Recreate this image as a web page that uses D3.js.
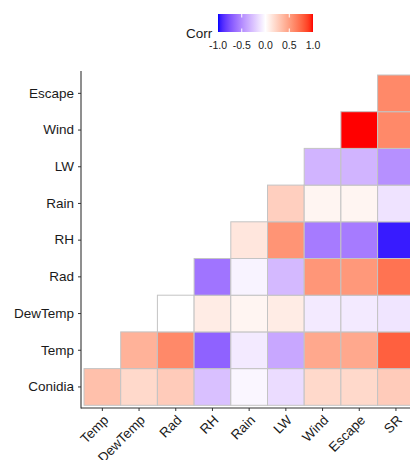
<!DOCTYPE html>
<html>
<head>
<meta charset="utf-8">
<script src="https://cdn.jsdelivr.net/npm/d3@7"></script>
<style>
  html, body { margin: 0; padding: 0; background: #fff; }
  svg { display: block; font-family: "Liberation Sans", Arial, sans-serif; }
</style>
</head>
<body>
<svg id="chart" width="410" height="460"></svg>
<script>
// Variables on each axis
const xVars = ["Temp", "DewTemp", "Rad", "RH", "Rain", "LW", "Wind", "Escape", "SR"];
const yVars = ["Conidia", "Temp", "DewTemp", "Rad", "RH", "Rain", "LW", "Wind", "Escape"];

// Lower-triangle correlations: each row lists values against xVars,
// starting at the column just after the row's own variable.
const corrConidia = [0.33, 0.20, 0.27, -0.27, -0.04, -0.15, 0.20, 0.20, 0.27];
const corrTemp    = [0.40, 0.60, -0.68, -0.09, -0.38, 0.45, 0.45, 0.78];
const corrDewTemp = [0.00, 0.10, 0.05, 0.10, -0.09, -0.09, -0.11];
const corrRad     = [-0.60, -0.05, -0.30, 0.54, 0.53, 0.70];
const corrRH      = [0.13, 0.55, -0.57, -0.57, -0.95];
const corrRain    = [0.25, 0.05, 0.05, -0.12];
const corrLW      = [-0.32, -0.32, -0.48];
const corrWind    = [1.00, 0.60];
const corrEscape  = [0.60];

// Legend breaks
const legendTicks = [-1, -0.5, 0, 0.5, 1];

const rows = [corrConidia, corrTemp, corrDewTemp, corrRad, corrRH, corrRain, corrLW, corrWind, corrEscape];
const cells = [];
rows.forEach((vals, i) => {
  const offset = xVars.length - vals.length;
  vals.forEach((v, k) => cells.push({ y: yVars[i], x: xVars[offset + k], value: v }));
});

// CIELAB (D65 white) conversions for the diverging ramp
const WHITE = [0.95047, 1, 1.08883];
function toLinear(c) { c /= 255; return c <= 0.04045 ? c / 12.92 : Math.pow((c + 0.055) / 1.055, 2.4); }
function fromLinear(c) {
  const v = c <= 0.0031308 ? 12.92 * c : 1.055 * Math.pow(c, 1 / 2.4) - 0.055;
  return Math.max(0, Math.min(255, Math.round(v * 255)));
}
function rgbToLab(hex) {
  const c = d3.rgb(hex);
  const r = toLinear(c.r), g = toLinear(c.g), b = toLinear(c.b);
  const X = 0.4124564 * r + 0.3575761 * g + 0.1804375 * b;
  const Y = 0.2126729 * r + 0.7151522 * g + 0.0721750 * b;
  const Z = 0.0193339 * r + 0.1191920 * g + 0.9503041 * b;
  const f = t => t > 216 / 24389 ? Math.cbrt(t) : (24389 / 27 * t + 16) / 116;
  const fx = f(X / WHITE[0]), fy = f(Y / WHITE[1]), fz = f(Z / WHITE[2]);
  return [116 * fy - 16, 500 * (fx - fy), 200 * (fy - fz)];
}
function labToRgb([L, A, B]) {
  const fy = (L + 16) / 116, fx = fy + A / 500, fz = fy - B / 200;
  const inv = t => t * t * t > 216 / 24389 ? t * t * t : (116 * t - 16) / (24389 / 27);
  const X = inv(fx) * WHITE[0], Y = inv(fy) * WHITE[1], Z = inv(fz) * WHITE[2];
  const r = 3.2404542 * X - 1.5371385 * Y - 0.4985314 * Z;
  const g = -0.9692660 * X + 1.8760108 * Y + 0.0415560 * Z;
  const b = 0.0556434 * X - 0.2040259 * Y + 1.0572252 * Z;
  return d3.rgb(fromLinear(r), fromLinear(g), fromLinear(b)).formatHex();
}
const labLow = rgbToLab("#0000ff"), labMid = rgbToLab("#ffffff"), labHigh = rgbToLab("#ff0000");
function color(v) {
  const t = Math.min(1, Math.abs(v));
  const end = v < 0 ? labLow : labHigh;
  return labToRgb(labMid.map((m, i) => m + (end[i] - m) * t));
}

const svg = d3.select("#chart");

// Panel geometry
const panel = { left: 81, top: 71, bottom: 408 };
const step = 36.7;
const x = d3.scaleBand().domain(xVars).range([84, 84 + step * xVars.length]).padding(0);
const y = d3.scaleBand().domain(yVars.slice().reverse()).range([405.3 - step * yVars.length, 405.3]).padding(0);

// Tiles
svg.append("g")
  .selectAll("rect")
  .data(cells)
  .join("rect")
  .attr("x", d => x(d.x))
  .attr("y", d => y(d.y))
  .attr("width", x.bandwidth())
  .attr("height", y.bandwidth())
  .attr("fill", d => color(d.value))
  .attr("stroke", "#c4c4c4")
  .attr("stroke-width", 1);

// Axis lines (left and bottom)
svg.append("line")
  .attr("x1", panel.left).attr("x2", panel.left)
  .attr("y1", panel.top).attr("y2", panel.bottom + 0.5)
  .attr("stroke", "#333").attr("stroke-width", 1.1);
svg.append("line")
  .attr("x1", panel.left).attr("x2", 410)
  .attr("y1", panel.bottom).attr("y2", panel.bottom)
  .attr("stroke", "#333").attr("stroke-width", 1.1);

// Y axis ticks and labels
const yAxis = svg.append("g")
  .attr("transform", `translate(${panel.left},0)`)
  .call(d3.axisLeft(y).tickSize(3).tickSizeOuter(0).tickPadding(4));
yAxis.select(".domain").remove();
yAxis.selectAll(".tick line").attr("stroke", "#333");
yAxis.selectAll(".tick text")
  .attr("fill", "#1a1a1a")
  .style("font-size", "13.5px")
  .style("font-family", "Liberation Sans, Arial, sans-serif");

// X axis ticks and rotated labels
const xAxis = svg.append("g")
  .attr("transform", `translate(0,${panel.bottom})`)
  .call(d3.axisBottom(x).tickSize(3).tickSizeOuter(0).tickPadding(0));
xAxis.select(".domain").remove();
xAxis.selectAll(".tick line").attr("stroke", "#333");
xAxis.selectAll(".tick text")
  .attr("fill", "#1a1a1a")
  .attr("text-anchor", "end")
  .attr("x", 0)
  .attr("y", 0)
  .attr("dy", "0.72em")
  .attr("transform", "translate(0,6) rotate(-45)")
  .style("font-size", "13.5px")
  .style("font-family", "Liberation Sans, Arial, sans-serif");

// Colour bar legend
const lg = { x0: 218, x1: 313, y0: 14, h: 18 };
const lx = d3.scaleLinear().domain([-1, 1]).range([lg.x0, lg.x1]);
const defs = svg.append("defs");
const grad = defs.append("linearGradient").attr("id", "corrGrad");
d3.range(0, 1.0001, 0.025).forEach(t => {
  grad.append("stop")
    .attr("offset", `${t * 100}%`)
    .attr("stop-color", color(-1 + 2 * t));
});
svg.append("rect")
  .attr("x", lg.x0).attr("y", lg.y0)
  .attr("width", lg.x1 - lg.x0).attr("height", lg.h)
  .attr("fill", "url(#corrGrad)");
// white break marks on the bar
const marks = svg.append("g").attr("stroke", "#fff").attr("stroke-width", 1);
legendTicks.slice(1, -1).forEach(d => {
  marks.append("line")
    .attr("x1", lx(d)).attr("x2", lx(d))
    .attr("y1", lg.y0).attr("y2", lg.y0 + 3.5);
  marks.append("line")
    .attr("x1", lx(d)).attr("x2", lx(d))
    .attr("y1", lg.y0 + lg.h - 3.5).attr("y2", lg.y0 + lg.h);
});

svg.append("g")
  .selectAll("text")
  .data(legendTicks)
  .join("text")
  .attr("x", d => lx(d))
  .attr("y", 49)
  .attr("text-anchor", "middle")
  .attr("fill", "#1a1a1a")
  .style("font-size", "10.5px")
  .text(d => d3.format(".1f")(d).replace("−", "-"));

svg.append("text")
  .attr("x", 186)
  .attr("y", 38)
  .attr("fill", "#1a1a1a")
  .style("font-size", "13.5px")
  .text("Corr");
</script>
</body>
</html>
